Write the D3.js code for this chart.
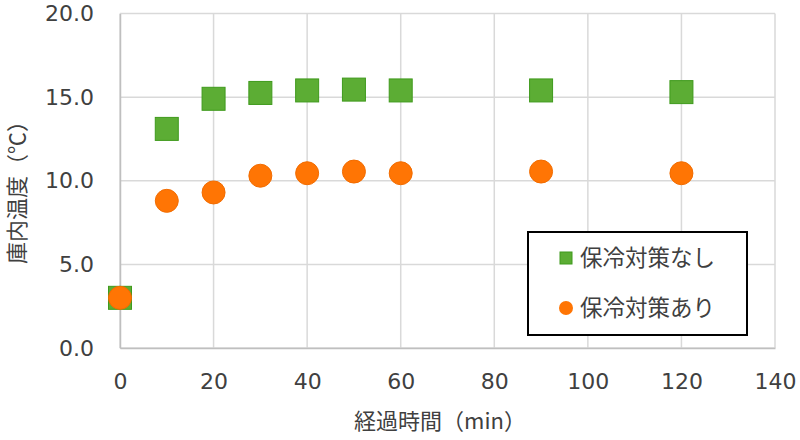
<!DOCTYPE html>
<html><head><meta charset="utf-8">
<script src="https://cdn.jsdelivr.net/npm/d3@7"></script>
<style>body{margin:0;background:#fff}svg{display:block}</style>
</head><body><svg id="c" width="800" height="440"></svg>
<script>
const times = [0, 10, 20, 30, 40, 50, 60, 90, 120];
const seriesNames = ["保冷対策なし", "保冷対策あり"];
const noCooling = [3.0, 13.1, 14.9, 15.25, 15.4, 15.45, 15.4, 15.4, 15.3];
const withCooling = [3.0, 8.8, 9.3, 10.3, 10.45, 10.55, 10.45, 10.55, 10.45];
const xTicks = [0, 20, 40, 60, 80, 100, 120, 140];
const yTicks = [0, 5, 10, 15, 20];
const xTitle = "経過時間（min）";
const yTitle = "庫内温度（℃）";

const svg = d3.select("#c");
const font = "'DejaVu Sans', Verdana, sans-serif";
const cjk = "'Noto Sans CJK JP', sans-serif";
const x = d3.scaleLinear().domain([0, 140]).range([120, 775]);
const y = d3.scaleLinear().domain([0, 20]).range([348, 13.5]);

// grid
svg.append("g").selectAll("line").data(yTicks).join("line")
  .attr("x1", 120).attr("x2", 775).attr("y1", d => y(d)).attr("y2", d => y(d))
  .attr("stroke", "#d9d9d9").attr("stroke-width", 1.5);
svg.append("g").selectAll("line").data(xTicks).join("line")
  .attr("y1", 13.5).attr("y2", 348).attr("x1", d => x(d)).attr("x2", d => x(d))
  .attr("stroke", "#d9d9d9").attr("stroke-width", 1.5);

// axes
const xAxis = svg.append("g").attr("transform", "translate(0,348)")
  .call(d3.axisBottom(x).tickValues(xTicks).tickSize(0).tickPadding(25).tickFormat(d3.format("d")));
const yAxis = svg.append("g").attr("transform", "translate(120,0)")
  .call(d3.axisLeft(y).tickValues(yTicks).tickSize(0).tickPadding(26).tickFormat(d3.format(".1f")));
[xAxis, yAxis].forEach(g => {
  g.select(".domain").attr("stroke", "#bfbfbf").attr("stroke-width", 1.5);
  g.selectAll("text").attr("font-family", font).attr("font-size", 22).attr("fill", "#404040");
});

// titles
svg.append("text").attr("x", 440).attr("y", 429).attr("text-anchor", "middle")
  .attr("font-family", cjk).attr("font-size", 22).attr("fill", "#404040").text(xTitle);
svg.append("text").attr("transform", "translate(25,187) rotate(-90)").attr("text-anchor", "middle")
  .attr("font-family", cjk).attr("font-size", 22).attr("fill", "#404040").text(yTitle);

// markers
const sq = 23;
svg.append("g").selectAll("rect").data(times.map((t, i) => [t, noCooling[i]])).join("rect")
  .attr("x", d => x(d[0]) - sq / 2).attr("y", d => y(d[1]) - sq / 2)
  .attr("width", sq).attr("height", sq)
  .attr("fill", "#5cad34").attr("stroke", "#3f9a1c").attr("stroke-width", 1);
svg.append("g").selectAll("circle").data(times.map((t, i) => [t, withCooling[i]])).join("circle")
  .attr("cx", d => x(d[0])).attr("cy", d => y(d[1])).attr("r", 11.5)
  .attr("fill", "#ff7504").attr("stroke", "#f26c00").attr("stroke-width", 1);

// legend
const lg = svg.append("g");
lg.append("rect").attr("x", 528).attr("y", 232).attr("width", 219).attr("height", 103)
  .attr("fill", "#fff").attr("stroke", "#000").attr("stroke-width", 2);
lg.append("rect").attr("x", 560).attr("y", 252).attr("width", 12).attr("height", 12)
  .attr("fill", "#5cad34").attr("stroke", "#3f9a1c");
lg.append("circle").attr("cx", 566).attr("cy", 308).attr("r", 7).attr("fill", "#ff7504");
lg.selectAll("text").data(seriesNames).join("text")
  .attr("x", 580).attr("y", (d, i) => 258 + i * 50).attr("dy", "0.35em")
  .attr("font-family", cjk).attr("font-size", 22.5).attr("fill", "#404040")
  .text(d => d);
</script></body></html>
